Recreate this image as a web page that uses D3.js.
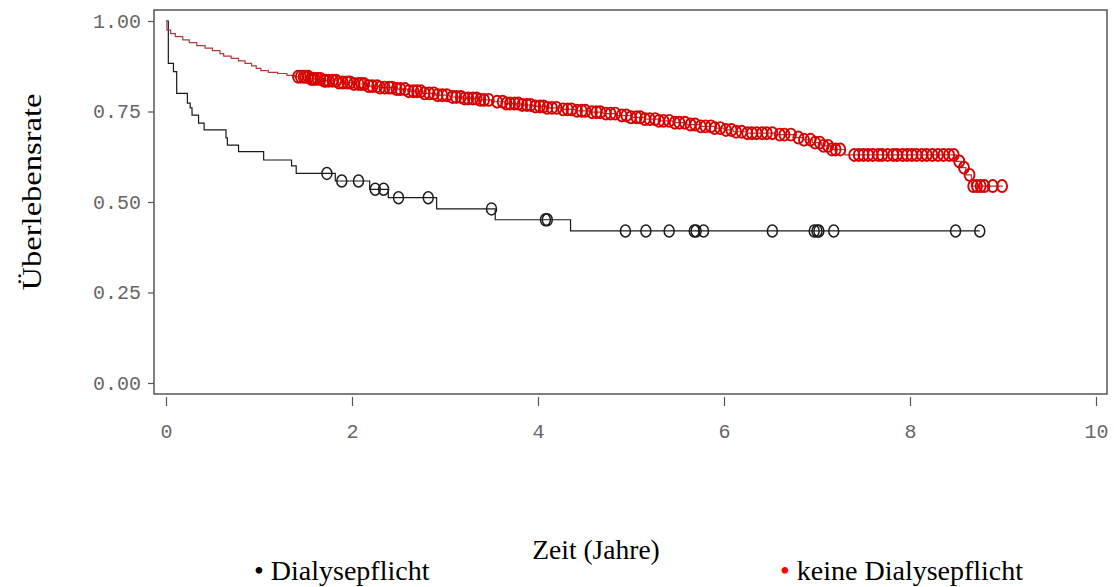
<!DOCTYPE html>
<html>
<head>
<meta charset="utf-8">
<script src="https://cdn.jsdelivr.net/npm/d3@7"></script>
<style>
  body { margin: 0; background: #fff; }
  svg { display: block; }
</style>
</head>
<body>
<div id="chart"></div>
<script>
// Kaplan-Meier steps: [time in years, survival]
var dialyseSteps = [[0, 1.0], [0.025, 0.883], [0.08, 0.86], [0.115, 0.80], [0.23, 0.773], [0.26, 0.76],
  [0.28, 0.74], [0.35, 0.718], [0.41, 0.699], [0.645, 0.677], [0.66, 0.657], [0.78, 0.639], [1.05, 0.616],
  [1.35, 0.60], [1.40, 0.579], [1.82, 0.558], [2.19, 0.535], [2.39, 0.512], [2.91, 0.481], [3.54, 0.451],
  [4.35, 0.42]];
var dialyseEnd = 8.75;
var dialyseCensored = [1.73, 1.89, 2.07, 2.25, 2.34, 2.50, 2.82, 3.50, 4.08, 4.10, 4.94, 5.16, 5.41, 5.68,
  5.70, 5.78, 6.52, 6.97, 7.00, 7.02, 7.18, 8.49, 8.75];

var keineSteps = [[0, 1.0], [0.01, 0.975], [0.05, 0.965], [0.1, 0.957], [0.18, 0.948], [0.25, 0.94],
  [0.33, 0.932], [0.42, 0.925], [0.5, 0.918], [0.58, 0.91], [0.62, 0.903], [0.7, 0.897], [0.78, 0.89],
  [0.85, 0.883], [0.92, 0.876], [0.97, 0.869], [1.02, 0.863], [1.1, 0.858], [1.2, 0.855], [1.3, 0.85],
  [1.38, 0.846], [1.55, 0.84], [1.7, 0.835], [1.85, 0.83], [2.0, 0.826], [2.15, 0.82], [2.3, 0.816],
  [2.45, 0.812], [2.6, 0.806], [2.75, 0.8], [2.9, 0.795], [3.05, 0.79], [3.2, 0.786], [3.35, 0.782],
  [3.5, 0.777], [3.65, 0.772], [3.8, 0.768], [3.95, 0.764], [4.1, 0.76], [4.25, 0.756], [4.4, 0.752],
  [4.55, 0.748], [4.7, 0.744], [4.85, 0.739], [5.0, 0.734], [5.15, 0.729], [5.3, 0.724], [5.45, 0.719],
  [5.6, 0.714], [5.75, 0.709], [5.9, 0.704], [6.0, 0.699], [6.1, 0.694], [6.25, 0.69], [6.55, 0.686],
  [6.75, 0.678], [6.85, 0.672], [6.95, 0.664], [7.05, 0.655], [7.15, 0.645], [7.3, 0.63], [8.5, 0.612],
  [8.55, 0.595], [8.6, 0.575], [8.66, 0.544]];
var keineEnd = 9.0;
var keineCensored = [1.42, 1.45, 1.48, 1.5, 1.53, 1.56, 1.58, 1.6, 1.63, 1.66, 1.7, 1.72, 1.75, 1.79, 1.83,
  1.86, 1.9, 1.95, 1.98, 2.02, 2.07, 2.1, 2.13, 2.18, 2.22, 2.27, 2.3, 2.35, 2.4, 2.43, 2.48, 2.52, 2.57,
  2.61, 2.66, 2.7, 2.74, 2.78, 2.83, 2.88, 2.92, 2.97, 3.02, 3.08, 3.12, 3.17, 3.21, 3.25, 3.3, 3.34, 3.38,
  3.42, 3.47, 3.56, 3.62, 3.66, 3.7, 3.75, 3.79, 3.83, 3.88, 3.92, 3.97, 4.02, 4.06, 4.1, 4.15, 4.2, 4.27,
  4.32, 4.36, 4.42, 4.47, 4.51, 4.58, 4.63, 4.67, 4.73, 4.78, 4.83, 4.9, 4.95, 5.0, 5.06, 5.1, 5.15, 5.2,
  5.26, 5.3, 5.35, 5.41, 5.47, 5.52, 5.58, 5.64, 5.69, 5.75, 5.8, 5.86, 5.9, 5.96, 6.02, 6.08, 6.13, 6.19,
  6.25, 6.3, 6.35, 6.41, 6.46, 6.52, 6.6, 6.65, 6.72, 6.8, 6.86, 6.93, 6.98, 7.03, 7.07, 7.12, 7.16, 7.2,
  7.25, 7.4, 7.45, 7.5, 7.55, 7.6, 7.66, 7.7, 7.76, 7.82, 7.86, 7.92, 7.97, 8.02, 8.07, 8.13, 8.18, 8.24,
  8.3, 8.36, 8.42, 8.47, 8.53, 8.58, 8.64, 8.68, 8.72, 8.76, 8.8, 8.89, 8.99];

var xTicks = [0, 2, 4, 6, 8, 10];
var yTicks = [0, 0.25, 0.5, 0.75, 1];

var groups = [
  {name: 'Dialysepflicht', steps: dialyseSteps, end: dialyseEnd, censored: dialyseCensored,
   line: '#1a1a1a', mark: '#1a1a1a', markWidth: 1.5, dot: '#000'},
  {name: 'keine Dialysepflicht', steps: keineSteps, end: keineEnd, censored: keineCensored,
   line: '#b03a3a', mark: '#d80000', markWidth: 1.9, dot: '#ff0000'}
];

var W = 1114, H = 587;
var frame = {left: 154, top: 10, right: 1107, bottom: 394};

var x = d3.scaleLinear().domain([0, 10]).range([166, 1096]);
var y = d3.scaleLinear().domain([0, 1]).range([383, 21]);

var svg = d3.select('#chart').append('svg').attr('width', W).attr('height', H);

// plot frame
svg.append('rect')
   .attr('x', frame.left).attr('y', frame.top)
   .attr('width', frame.right - frame.left).attr('height', frame.bottom - frame.top)
   .style('fill', 'none').style('stroke', '#555').style('stroke-width', 1.5);

var tickFont = function(g) {
  g.select('.domain').remove();
  g.selectAll('line').style('stroke', '#555').style('stroke-width', 1.2);
  g.selectAll('text').style('font-family', 'Liberation Mono').style('font-size', '20px').style('fill', '#666');
};

svg.append('g')
   .attr('transform', 'translate(' + frame.left + ',0)')
   .call(d3.axisLeft(y).tickValues(yTicks).tickFormat(d3.format('.2f')).tickSize(6).tickPadding(7))
   .call(tickFont);

svg.append('g')
   .attr('transform', 'translate(0,' + (frame.bottom + 3) + ')')
   .call(d3.axisBottom(x).tickValues(xTicks).tickFormat(d3.format('d')).tickSize(9).tickPadding(18))
   .call(tickFont);

function survAt(steps, t) {
  var s = steps[0][1];
  steps.forEach(function(p) { if (p[0] <= t) s = p[1]; });
  return s;
}

var line = d3.line()
  .x(function(d) { return x(d[0]); })
  .y(function(d) { return y(d[1]); })
  .curve(d3.curveStepAfter);

groups.forEach(function(g) {
  var pts = g.steps.concat([[g.end, g.steps[g.steps.length - 1][1]]]);
  svg.append('path')
     .attr('d', line(pts))
     .style('fill', 'none').style('stroke', g.line).style('stroke-width', 1.2);

  svg.append('g').selectAll('ellipse')
     .data(g.censored)
     .enter()
     .append('ellipse')
     .attr('cx', function(d) { return x(d); })
     .attr('cy', function(d) { return y(survAt(g.steps, d)); })
     .attr('rx', 5).attr('ry', 6)
     .style('fill', 'none').style('stroke', g.mark).style('stroke-width', g.markWidth);
});

// axis titles
svg.append('text')
   .attr('transform', 'translate(41,192) rotate(-90)')
   .attr('text-anchor', 'middle')
   .attr('textLength', 197).attr('lengthAdjust', 'spacingAndGlyphs')
   .style('font-family', 'Liberation Serif').style('font-size', '28px')
   .text('Überlebensrate');

svg.append('text')
   .attr('x', 596).attr('y', 559)
   .attr('text-anchor', 'middle')
   .style('font-family', 'Liberation Serif').style('font-size', '27.5px')
   .text('Zeit (Jahre)');

// legend
var legendX = [254, 780];
var legend = svg.selectAll('.legend')
   .data(groups)
   .enter()
   .append('text')
   .classed('legend', true)
   .attr('x', function(d, i) { return legendX[i]; })
   .attr('y', 580)
   .style('font-family', 'Liberation Serif').style('font-size', '28px');
legend.append('tspan').style('fill', function(d) { return d.dot; }).text('• ');
legend.append('tspan').text(function(d) { return d.name; });
</script>
</body>
</html>
